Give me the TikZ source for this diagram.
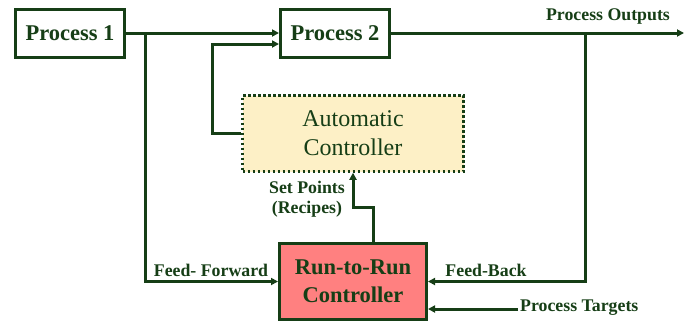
\documentclass[tikz,border=0pt]{standalone}
\usepackage{fontspec}
\setmainfont{Liberation Serif}
\usetikzlibrary{arrows.meta,positioning}
\definecolor{dkgreen}{RGB}{22,62,22}
\definecolor{acfill}{RGB}{253,240,198}
\definecolor{rfill}{RGB}{255,128,128}

\begin{document}
\begin{tikzpicture}[x=1pt,y=-1pt,on grid,
  every node/.style={text=dkgreen},
  proc/.style={draw=dkgreen,line width=3pt,fill=white,minimum width=109pt,minimum height=48pt,
    inner sep=0pt,font=\bfseries\fontsize{22.5}{24}\selectfont},
  lbl/.style={font=\bfseries\fontsize{17.8}{19.5}\selectfont,inner sep=0pt,align=center},
  conn/.style={draw=dkgreen,line width=3pt,-{Triangle[length=7pt,width=7pt]}},
  line/.style={draw=dkgreen,line width=3pt}]
  \useasboundingbox (0,0) rectangle (684,325);

  \node[proc] (proc_1) at (70,33) {Process 1};
  \node[proc] (proc_2) [right=265pt of proc_1] {Process 2};
  \node[draw=dkgreen,line width=2.5pt,dash pattern=on 2.5pt off 2.5pt,fill=acfill,
    minimum width=221pt,minimum height=76pt,inner sep=0pt,align=center,
    font=\fontsize{24}{29}\selectfont] (auto_c) at (353,133.5) {Automatic\\Controller};
  \node[proc,fill=rfill,minimum width=147pt,minimum height=76pt,align=center,
    font=\bfseries\fontsize{22.5}{28}\selectfont] (r2r) at (353,281.5) {Run-to-Run\\Controller};

  \coordinate (ff) at (145,33);
  \coordinate (fb) at (585,33);
  \coordinate (out) at (684,33);
  \coordinate (tgt) at (518,309);

  % process chain
  \draw[conn] (proc_1.east) -- (proc_2.west);
  \draw[conn] (proc_2.east) -- (out);
  \draw[conn] (auto_c.west) -- ++(-29,0) |- ([yshift=-11pt]proc_2.west);

  % run-to-run loop
  \draw[conn] (ff) |- (r2r.west);
  \draw[conn] (fb) |- (r2r.east);
  \draw[conn] (tgt) -- (r2r.east |- tgt);
  \draw[conn] ([xshift=20pt]r2r.north) -- ++(0,-35) -| (auto_c.south);

  \node[lbl] (out_l) at (608,16) {Process Outputs};
  \node[lbl] (ff_l) at (211,270) {Feed- Forward};
  \node[lbl] (fb_l) at (486,270) {Feed-Back};
  \node[lbl,anchor=west] (tgt_l) at (520,308) {Process Targets};
  \node[lbl] (sp_l) at (307,199) {Set Points\\(Recipes)};
\end{tikzpicture}
\end{document}
